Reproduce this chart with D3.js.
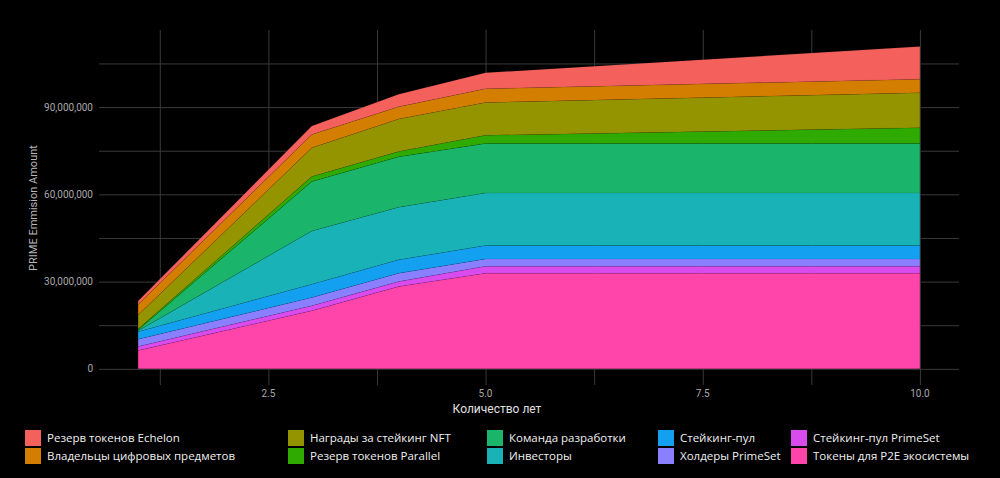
<!DOCTYPE html>
<html>
<head>
<meta charset="utf-8">
<script src="https://cdn.jsdelivr.net/npm/d3@7"></script>
<style>
  html, body { margin: 0; padding: 0; background: #000; }
  svg { display: block; font-family: "Open Sans", "Noto Sans", sans-serif; }
  .grid line { stroke: #3a3a3a; stroke-width: 1; }
  .grid path { display: none; }
  .tick-label { fill: #a8a8a8; font-family: Roboto, "Liberation Sans", sans-serif; font-size: 10px; }
  .legend-text { fill: #f0f0f0; font-size: 11.5px; }
</style>
</head>
<body>
<div id="chart"></div>
<script>
// years on the x axis
const years = [1, 3, 4, 5, 10];

// emission per category, millions of PRIME (bottom of the stack first)
const p2eTokens      = [6.3, 20.0, 28.3, 32.9, 32.9];
const stakingPrimeSet = [1.4, 1.7, 1.7, 2.4, 2.4];
const holdersPrimeSet = [2.5, 2.8, 2.9, 2.5, 2.5];
const stakingPool    = [2.6, 4.6, 4.6, 4.6, 4.6];
const investors      = [0.3, 18.3, 18.1, 18.1, 18.1];
const devTeam        = [0.3, 17.0, 17.3, 17.0, 17.0];
const parallelReserve = [0.3, 1.7, 1.8, 2.8, 5.4];
const nftRewards     = [4.8, 9.9, 11.2, 11.3, 12.0];
const itemOwners     = [3.6, 4.6, 4.2, 4.7, 4.7];
const echelonReserve = [1.2, 2.9, 4.3, 5.5, 11.2];

const seriesNames = [
  "Токены для P2E экосистемы",
  "Стейкинг-пул PrimeSet",
  "Холдеры PrimeSet",
  "Стейкинг-пул",
  "Инвесторы",
  "Команда разработки",
  "Резерв токенов Parallel",
  "Награды за стейкинг NFT",
  "Владельцы цифровых предметов",
  "Резерв токенов Echelon"
];
const seriesValues = [p2eTokens, stakingPrimeSet, holdersPrimeSet, stakingPool, investors,
  devTeam, parallelReserve, nftRewards, itemOwners, echelonReserve];
const seriesColors = ["#FF45A9", "#DA4BEE", "#8A80FF", "#14A0F0", "#19B2B6",
  "#1AB46B", "#2FAA00", "#949400", "#D47E00", "#F4615C"];

const yMajorTicks = [0, 30, 60, 90];
const yMinorTicks = [15, 45, 75, 105];
const xMajorTicks = [2.5, 5, 7.5, 10];
const xMinorTicks = [1.25, 3.75, 6.25, 8.75];

// legend reading order (column by column)
const legendOrder = [
  "Резерв токенов Echelon", "Владельцы цифровых предметов",
  "Награды за стейкинг NFT", "Резерв токенов Parallel",
  "Команда разработки", "Инвесторы",
  "Стейкинг-пул", "Холдеры PrimeSet",
  "Стейкинг-пул PrimeSet", "Токены для P2E экосистемы"
];

class EmissionArea {
  constructor(_config) {
    this.config = {
      parentElement: _config.parentElement,
      width: 1000,
      height: 478,
      plot: {left: 99, right: 959, top: 30, bottom: 385}
    };
    this.initVis();
  }

  initVis() {
    let vis = this;

    vis.svg = d3.select(vis.config.parentElement)
      .append("svg")
        .attr("width", vis.config.width)
        .attr("height", vis.config.height);

    vis.svg.append("rect")
      .attr("width", vis.config.width)
      .attr("height", vis.config.height)
      .attr("fill", "#000");

    const p = vis.config.plot;
    vis.xScale = d3.scaleLinear().domain([0.55, 10.45]).range([p.left, p.right]);
    vis.yScale = d3.scaleLinear().domain([-5.55, 116.5]).range([p.bottom, p.top]);

    vis.gridG = vis.svg.append("g");
    vis.areaG = vis.svg.append("g");
    vis.legendG = vis.svg.append("g");

    // axis titles
    vis.svg.append("text")
      .attr("transform", "translate(37,208) rotate(-90)")
      .attr("text-anchor", "middle")
      .attr("fill", "#b8b8b8")
      .style("font-family", "Roboto, sans-serif")
      .style("font-size", "11px")
      .text("PRIME Emmision Amount");

    vis.svg.append("text")
      .attr("x", 497)
      .attr("y", 413)
      .attr("text-anchor", "middle")
      .attr("fill", "#e0e0e0")
      .style("font-family", "Roboto, sans-serif")
      .style("font-size", "12px")
      .text("Количество лет");

    vis.updateVis();
  }

  updateVis() {
    let vis = this;
    vis.table = years.map((yr, i) => {
      const row = {year: yr};
      seriesNames.forEach((n, j) => { row[n] = seriesValues[j][i]; });
      return row;
    });
    vis.stacked = d3.stack().keys(seriesNames)(vis.table);
    vis.renderVis();
  }

  renderVis() {
    let vis = this;
    const p = vis.config.plot;

    // gridlines
    const xGrid = d3.axisBottom(vis.xScale)
      .tickValues(xMajorTicks.concat(xMinorTicks))
      .tickSize(-(p.bottom - p.top))
      .tickFormat("");
    vis.gridG.append("g")
      .attr("class", "grid")
      .attr("transform", `translate(0,${p.bottom})`)
      .call(xGrid);

    const yGrid = d3.axisLeft(vis.yScale)
      .tickValues(yMajorTicks.concat(yMinorTicks))
      .tickSize(-(p.right - p.left))
      .tickFormat("");
    vis.gridG.append("g")
      .attr("class", "grid")
      .attr("transform", `translate(${p.left},0)`)
      .call(yGrid);

    // tick labels
    vis.gridG.selectAll(".y-label")
      .data(yMajorTicks)
      .join("text")
        .attr("class", "tick-label")
        .attr("x", p.left - 6)
        .attr("y", d => vis.yScale(d))
        .attr("dy", "0.35em")
        .attr("text-anchor", "end")
        .text(d => d3.format(",")(d * 1e6));

    vis.gridG.selectAll(".x-label")
      .data(xMajorTicks)
      .join("text")
        .attr("class", "tick-label")
        .attr("x", d => vis.xScale(d))
        .attr("y", 397)
        .attr("text-anchor", "middle")
        .text(d3.format(".1f"));

    // stacked areas
    const area = d3.area()
      .x(d => vis.xScale(d.data.year))
      .y0(d => vis.yScale(d[0]))
      .y1(d => vis.yScale(d[1]));

    vis.areaG.selectAll(".layer")
      .data(vis.stacked)
      .join("path")
        .attr("class", "layer")
        .attr("d", area)
        .attr("fill", (d, i) => seriesColors[i])
        .attr("stroke", "rgba(0,0,0,0.15)")
        .attr("stroke-width", 0.5);

    // legend
    const colX = [25, 288, 487, 658, 791];
    const rowY = [430, 448];
    const colorOf = n => seriesColors[seriesNames.indexOf(n)];

    const items = vis.legendG.selectAll(".item")
      .data(legendOrder)
      .join("g")
        .attr("class", "item")
        .attr("transform", (d, i) => `translate(${colX[Math.floor(i / 2)]},${rowY[i % 2]})`);

    items.append("rect")
      .attr("width", 16)
      .attr("height", 16)
      .attr("fill", d => colorOf(d));

    items.append("text")
      .attr("class", "legend-text")
      .attr("x", 22)
      .attr("y", 8)
      .attr("dy", "0.35em")
      .text(d => d);
  }
}

new EmissionArea({parentElement: "#chart"});
</script>
</body>
</html>
